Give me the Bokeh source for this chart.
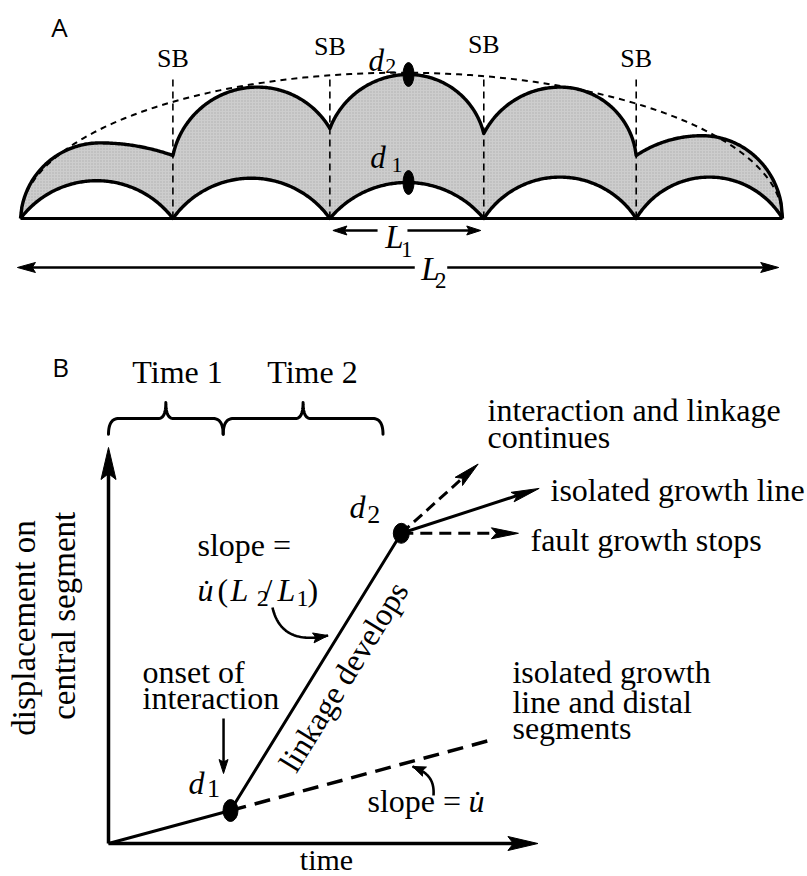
import math
import numpy as np
from bokeh.plotting import figure
from bokeh.layouts import column
from bokeh.models import Range1d
from bokeh.core.properties import value
from bokeh.embed import file_html
from bokeh.resources import INLINE

SERIF = "Liberation Serif"
SANS = "Open Sans"

# ---------------- Panel A: displacement along strike ----------------
# distance along strike in segment units, displacement in d1 units
seg_edges = [0.0, 1.0, 2.03, 3.04, 4.04, 5.0]
time1_peak = [1.05, 1.12, 1.0, 1.15, 1.15]
time2_edge = [0.0, 1.75, 2.5, 2.36, 1.75, 0.0]
time2_peak = [2.1, 3.65, 4.0, 3.65, 2.3]
time2_peak_pos = [0.52, 1.555, 2.546, 3.54, 4.47]
env_center = 2.5
env_half_length = 2.5
env_max = 4.05
d1_value = 1.0
d2_value = 4.0
sb_labels = ["SB", "SB", "SB", "SB"]
sb_label_y = [4.19, 4.53, 4.58, 4.19]
sb_line_top = 3.97

# ---------------- Panel B: displacement on central segment vs time ----------------
path_time = [0.0, 1.0, 2.4]          # origin, onset of interaction (d1), d2
path_disp = [0.0, 1.0, 9.4]
iso_end = (3.15, 3.15)               # isolated growth, slope = u-dot
cont_tip = (3.03, 11.5)              # interaction and linkage continues
iso_tip = (3.53, 10.76)              # isolated growth line
stop_tip = (3.36, 9.4)               # fault growth stops
period_edges = [0.0, 0.94, 2.25]
period_labels = ["Time 1", "Time 2"]
period_label_x = [0.566, 1.672]
axis_time_max = 3.52
axis_disp_max = 12.0

# pixel scales of the two panels
A_W, A_H, A_SX, A_SY, A_OX, A_OY = 807, 300, 152.4, 36.0, 20.0, 218.0
B_W, B_H, B_SX, B_SY, B_OX, B_OY = 807, 576, 122.0, 33.0, 108.0, 543.0


def make_fig(w, h, sx, sy, ox, oy):
    p = figure(width=w, height=h,
               x_range=Range1d(-ox / sx, (w - ox) / sx),
               y_range=Range1d(-(h - oy) / sy, oy / sy),
               toolbar_location=None, output_backend="svg",
               x_axis_location=None, y_axis_location=None,
               min_border=0, outline_line_color=None,
               background_fill_color="white", border_fill_color="white")
    p.grid.visible = False
    p.tags = [sy]
    return p


def txt(p, x, y, s, size, align="left", baseline="alphabetic", style="normal",
        font=SERIF, angle=0.0):
    # text given by its baseline is anchored at the middle of its em box instead
    if baseline == "alphabetic":
        y = y + 0.34 * size / p.tags[0]
        baseline = "middle"
    p.text(x=[x], y=[y], text=[s], text_font=value(font),
           text_font_size=value(f"{size}px"), text_font_style=style,
           text_align=align, text_baseline=baseline, angle=angle,
           text_color="black")


def half_arc(xp, hp, xe, he, sx, sy, n=60):
    """Rounded flank (screen-space circle, or quarter ellipse when steep) from a crest to an end."""
    W = abs(xe - xp) * sx
    D = (hp - he) * sy
    X = np.linspace(0, W, n)
    if D <= W:
        R = (W * W + D * D) / (2 * D)
        drop = R - np.sqrt(np.maximum(R * R - X * X, 0))
    else:
        drop = D * (1 - np.sqrt(np.maximum(1 - (X / W) ** 2, 0)))
    return xp + np.sign(xe - xp) * X / sx, hp - drop / sy


def arch(x0, h0, xp, hp, x1, h1, sx, sy):
    lx, ly = half_arc(xp, hp, x0, h0, sx, sy)
    rx, ry = half_arc(xp, hp, x1, h1, sx, sy)
    return np.concatenate([lx[::-1], rx[1:]]), np.concatenate([ly[::-1], ry[1:]])


def head(p, tip, frm, sx, sy, length, width):
    dx, dy = (tip[0] - frm[0]) * sx, (tip[1] - frm[1]) * sy
    n = math.hypot(dx, dy)
    ux, uy = dx / n, dy / n
    nx, ny = -uy, ux
    pts = [(0, 0),
           (-ux * length + nx * width / 2, -uy * length + ny * width / 2),
           (-ux * length * 0.82, -uy * length * 0.82),
           (-ux * length - nx * width / 2, -uy * length - ny * width / 2)]
    p.patch([tip[0] + a / sx for a, b in pts], [tip[1] + b / sy for a, b in pts],
            fill_color="black", line_color="black", line_width=1)


def arrow(p, start, tip, sx, sy, length, width, lw, dash="solid"):
    dx, dy = (tip[0] - start[0]) * sx, (tip[1] - start[1]) * sy
    n = math.hypot(dx, dy)
    k = max(0.0, 1 - 0.75 * length / n)
    end = (start[0] + (tip[0] - start[0]) * k, start[1] + (tip[1] - start[1]) * k)
    p.line([start[0], end[0]], [start[1], end[1]], line_color="black",
           line_width=lw, line_dash=dash, line_cap="butt")
    head(p, tip, start, sx, sy, length, width)


def cubic(p0, p1, p2, p3, n=40):
    t = np.linspace(0, 1, n)[:, None]
    pts = ((1 - t) ** 3) * np.array(p0) + 3 * ((1 - t) ** 2) * t * np.array(p1) \
        + 3 * (1 - t) * t * t * np.array(p2) + (t ** 3) * np.array(p3)
    return pts[:, 0], pts[:, 1]


def quad(p0, p1, p2, n=16):
    t = np.linspace(0, 1, n)[:, None]
    pts = ((1 - t) ** 2) * np.array(p0) + 2 * (1 - t) * t * np.array(p1) + (t ** 2) * np.array(p2)
    return list(pts[:, 0]), list(pts[:, 1])


def brace(p, x0, x1, y_end, y_mid, y_tip, r, r_tip):
    xm = (x0 + x1) / 2
    xs, ys = [], []
    for a, b, c in [((x0, y_end), (x0, y_mid), (x0 + r, y_mid)),
                    ((xm - r_tip, y_mid), (xm, y_mid), (xm, y_tip)),
                    ((xm, y_tip), (xm, y_mid), (xm + r_tip, y_mid)),
                    ((x1 - r, y_mid), (x1, y_mid), (x1, y_end))]:
        qx, qy = quad(a, b, c)
        xs += qx
        ys += qy
    p.line(xs, ys, line_color="black", line_width=3, line_join="round", line_cap="round")


# ======================= Panel A =======================
pA = make_fig(A_W, A_H, A_SX, A_SY, A_OX, A_OY)

t1x, t1y, t2x, t2y = [], [], [], []
for i in range(5):
    x0, x1 = seg_edges[i], seg_edges[i + 1]
    ax, ay = arch(x0, 0.0, (x0 + x1) / 2, time1_peak[i], x1, 0.0, A_SX, A_SY)
    t1x += list(ax)
    t1y += list(ay)
    bx, by = arch(x0, time2_edge[i], time2_peak_pos[i], time2_peak[i], x1, time2_edge[i + 1], A_SX, A_SY)
    t2x += list(bx)
    t2y += list(by)

# shaded growth between Time 1 and Time 2
pA.patch(t2x + t1x[::-1], t2y + t1y[::-1], fill_color="#cdcdcd", line_color=None,
         hatch_pattern="dot", hatch_color="#999999", hatch_scale=3, hatch_alpha=0.6)

# segment boundaries
pA.segment(x0=seg_edges[1:5], y0=[0.0] * 4, x1=seg_edges[1:5], y1=[sb_line_top] * 4,
           line_color="black", line_width=1.6, line_dash="7 5")

# envelope of the linked fault
th = np.linspace(0, math.pi, 200)
pA.line(env_center + env_half_length * np.cos(th), env_max * np.sin(th),
        line_color="black", line_width=2, line_dash="6 5")

pA.line(t1x, t1y, line_color="black", line_width=3.4, line_join="round")
pA.line(t2x, t2y, line_color="black", line_width=3.4, line_join="round")
pA.line([seg_edges[0], seg_edges[-1]], [0, 0], line_color="black", line_width=3)

center_x = time2_peak_pos[2]
pA.ellipse(x=[center_x, center_x], y=[d1_value, d2_value], width=11, height=24,
           width_units="screen", height_units="screen", fill_color="black", line_color="black")

txt(pA, 0.256, 5.33, "A", 26, align="center", baseline="middle", font=SANS)
for x, y, s in zip(seg_edges[1:5], sb_label_y, sb_labels):
    txt(pA, x, y, s, 26, align="center")
txt(pA, 2.335, 4.11, "d", 31, align="center", style="italic")
txt(pA, 2.43, 4.02, "2", 22, align="center")
txt(pA, 2.345, 1.389, "d", 31, align="center", style="italic")
txt(pA, 2.47, 1.278, "1", 22, align="center")

# L1 and L2 length arrows
yL1, yL2 = -0.333, -1.361
arrow(pA, (2.343, yL1), (seg_edges[2] + 0.02, yL1), A_SX, A_SY, 14, 9, 2.5)
arrow(pA, (2.539, yL1), (seg_edges[3] - 0.02, yL1), A_SX, A_SY, 14, 9, 2.5)
txt(pA, 2.454, -0.833, "L", 33, align="center", style="italic")
txt(pA, 2.535, -1.083, "1", 23, align="center")
arrow(pA, (2.587, yL2), (seg_edges[0] - 0.02, yL2), A_SX, A_SY, 18, 10, 2.5)
arrow(pA, (2.80, yL2), (seg_edges[5] - 0.025, yL2), A_SX, A_SY, 18, 10, 2.5)
txt(pA, 2.69, -1.722, "L", 33, align="center", style="italic")
txt(pA, 2.757, -1.944, "2", 23, align="center")

# ======================= Panel B =======================
pB = make_fig(B_W, B_H, B_SX, B_SY, B_OX, B_OY)

# axes
arrow(pB, (0, 0), (0, axis_disp_max), B_SX, B_SY, 32, 15, 3.5)
arrow(pB, (0, 0), (axis_time_max, 0), B_SX, B_SY, 30, 14, 3.5)

# time period braces
for i in range(2):
    brace(pB, period_edges[i], period_edges[i + 1], 12.4, 12.88, 13.36, 0.085, 0.06)
    txt(pB, period_label_x[i], 13.97, period_labels[i], 32, align="center")

# growth history of the central segment
pB.line(path_time, path_disp, line_color="black", line_width=3, line_join="round")
pB.line([path_time[1], iso_end[0]], [path_disp[1], iso_end[1]], line_color="black",
        line_width=3.5, line_dash="16 9")

d2pt = (path_time[2], path_disp[2])
arrow(pB, d2pt, cont_tip, B_SX, B_SY, 26, 11, 3, dash="11 6")
arrow(pB, d2pt, iso_tip, B_SX, B_SY, 28, 10, 3)
arrow(pB, d2pt, stop_tip, B_SX, B_SY, 27, 11, 3, dash="12 7")

pB.ellipse(x=[path_time[1]], y=[path_disp[1]], width=15, height=22,
           width_units="screen", height_units="screen", fill_color="black", line_color="black")
pB.ellipse(x=[path_time[2]], y=[path_disp[2]], width=16, height=20,
           width_units="screen", height_units="screen", fill_color="black", line_color="black")

# labels
txt(pB, -0.393, 14.45, "B", 26, align="center", baseline="middle", font=SANS)
txt(pB, -0.689, 6.53, "displacement on", 33, align="center", baseline="middle", angle=math.pi / 2)
txt(pB, -0.361, 6.90, "central segment", 33, align="center", baseline="middle", angle=math.pi / 2)
txt(pB, 1.787, -0.80, "time", 30, align="center")

txt(pB, 2.041, 9.88, "d", 32, align="center", style="italic")
txt(pB, 2.175, 9.70, "2", 26, align="center")
txt(pB, 0.721, 1.515, "d", 32, align="center", style="italic")
txt(pB, 0.86, 1.39, "1", 26, align="center")

txt(pB, 0.7295, 8.727, "slope =", 32)
base, sub = 7.364, 7.18
txt(pB, 0.7295, base, "u\u0307", 32, style="italic")
txt(pB, 0.893, base, "(", 32)
txt(pB, 1.0, base, "L", 32, style="italic")
txt(pB, 1.215, sub, "2", 24)
txt(pB, 1.27, base, "/", 32)
txt(pB, 1.385, base, "L", 32, style="italic")
txt(pB, 1.54, sub, "1", 24)
txt(pB, 1.631, base, ")", 32)

cx, cy = cubic((1.344, 7.15), (1.393, 6.394), (1.533, 6.09), (1.80, 6.30))
pB.line(cx, cy, line_color="black", line_width=2.6)
head(pB, (cx[-1], cy[-1]), (cx[-6], cy[-6]), B_SX, B_SY, 15, 10)

ang = math.atan2((path_disp[2] - path_disp[1]) * B_SY, (path_time[2] - path_time[1]) * B_SX)
txt(pB, 1.926, 5.06, "linkage develops", 32, align="center", baseline="middle", angle=ang)

txt(pB, 0.279, 4.879, "onset of", 32)
txt(pB, 0.279, 4.091, "interaction", 32)
arrow(pB, (0.943, 3.788), (0.943, 2.121), B_SX, B_SY, 14, 9, 2.5)

txt(pB, 2.123, 0.97, "slope = ", 32)
txt(pB, 2.951, 0.97, "u\u0307", 32, style="italic")
sx_, sy_ = cubic((2.664, 1.455), (2.672, 1.909), (2.623, 2.152), (2.492, 2.333))
pB.line(sx_, sy_, line_color="black", line_width=2.6)
head(pB, (sx_[-1], sy_[-1]), (sx_[-6], sy_[-6]), B_SX, B_SY, 13, 10)

txt(pB, 3.311, 4.879, "isolated growth", 32)
txt(pB, 3.311, 3.97, "line and distal", 32)
txt(pB, 3.311, 3.182, "segments", 32)

txt(pB, 3.107, 12.818, "interaction and linkage", 32)
txt(pB, 3.107, 12.0, "continues", 32)
txt(pB, 3.623, 10.394, "isolated growth line", 32)
txt(pB, 3.459, 8.879, "fault growth stops", 32)

layout = column(pA, pB, spacing=0)
open("out.html", "w").write(file_html(layout, INLINE))
